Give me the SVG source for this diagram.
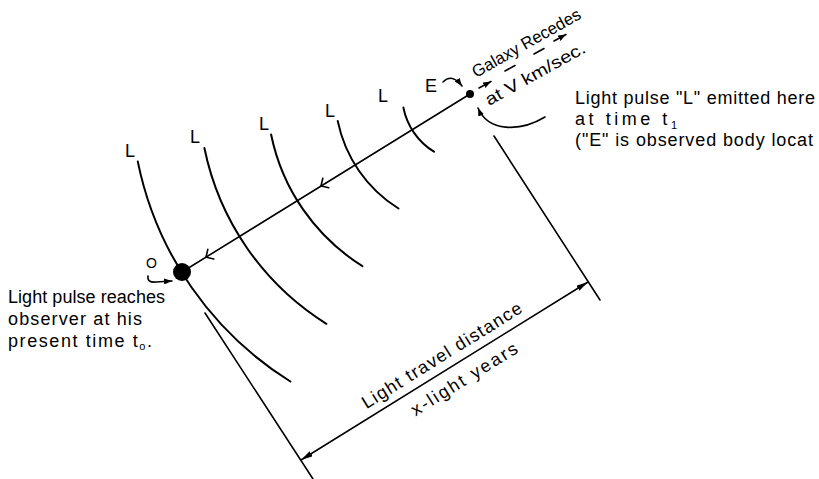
<svg xmlns="http://www.w3.org/2000/svg" width="819" height="479" viewBox="0 0 819 479">
<style>
  .ln { fill: none; stroke: #000; stroke-width: 1.6; stroke-linecap: round; }
  .arc { fill: none; stroke: #000; stroke-width: 2; stroke-linecap: round; }
  .tx { font-family: "Liberation Sans", Arial, sans-serif; font-size: 18px; fill: #000; }
  .sm { font-size: 17px; }
  .sub { font-size: 11px; }
</style>
<defs>
  <marker id="ah" viewBox="0 0 12 6" refX="12" refY="3" markerWidth="12" markerHeight="6" markerUnits="userSpaceOnUse" orient="auto-start-reverse">
    <path d="M0,0 L12,3 L0,6 z" fill="#000"/>
  </marker>
  <marker id="ahs" viewBox="0 0 8 6" refX="8" refY="3" markerWidth="8" markerHeight="6" markerUnits="userSpaceOnUse" orient="auto">
    <path d="M0,0 L8,3 L0,6 z" fill="#000"/>
  </marker>
</defs>
<rect width="819" height="479" fill="#fff"/>

<g id="wavefronts">
  <g id="wave-1">
    <path class="arc" d="M137.8,161.6 A339,339 0 0 0 290.4,381.5"/>
    <text class="tx" x="125" y="157">L</text>
  </g>
  <g id="wave-2">
    <path class="arc" d="M204.4,148 A271,271 0 0 0 326.4,323.8"/>
    <text class="tx" x="190" y="143">L</text>
  </g>
  <g id="wave-3">
    <path class="arc" d="M271.1,134.5 A203,203 0 0 0 362.4,266.1"/>
    <text class="tx" x="259" y="130">L</text>
  </g>
  <g id="wave-4">
    <path class="arc" d="M337.7,120.9 A135,135 0 0 0 398.5,208.5"/>
    <text class="tx" x="325" y="117">L</text>
  </g>
  <g id="wave-5">
    <path class="arc" d="M403.4,107.6 A67,67 0 0 0 434,151.7"/>
    <text class="tx" x="378" y="102">L</text>
  </g>
</g>

<g id="connectors">
  <!-- light path E to O -->
  <line class="ln" x1="470" y1="94" x2="182" y2="272"/>
  <path class="ln" d="M207.8,249.4 L206,257.2 L213.8,259"/>
  <path class="ln" d="M322.8,178.2 L321,186 L328.8,187.8"/>
  <!-- extension lines -->
  <line class="ln" x1="494" y1="136" x2="600" y2="300"/>
  <line class="ln" x1="205" y1="313" x2="313" y2="479"/>
  <!-- dimension line -->
  <line class="ln" x1="301" y1="460" x2="588" y2="282" marker-start="url(#ah)" marker-end="url(#ah)"/>
  <!-- label arrows -->
  <path class="ln" d="M443,82 Q452,73 462,86" marker-end="url(#ahs)"/>
  <path class="ln" d="M148,276 Q147,283 156,282 L172,281" marker-end="url(#ahs)"/>
  <path class="ln" d="M545,117 C520,132 488,132 478,108" marker-end="url(#ahs)"/>
  <!-- recession direction -->
  <line class="ln" x1="479" y1="88" x2="491" y2="81.5" marker-end="url(#ahs)"/>
  <line class="ln" x1="505" y1="71" x2="515" y2="65.5"/>
  <line class="ln" x1="534" y1="54" x2="544" y2="48.5"/>
  <line class="ln" x1="554" y1="41" x2="566" y2="34.5" marker-end="url(#ahs)"/>
</g>

<g id="node-O">
  <circle cx="182" cy="272" r="9" fill="#000"/>
  <text class="tx" x="146" y="268" style="font-size:14px">O</text>
</g>

<g id="node-E">
  <circle cx="470" cy="94" r="4" fill="#000"/>
  <text class="tx" x="425" y="92">E</text>
</g>

<g id="label-galaxy">
  <text class="tx sm" transform="translate(476,78) rotate(-29.5)" textLength="122" lengthAdjust="spacingAndGlyphs">Galaxy Recedes</text>
  <text class="tx sm" transform="translate(489,106) rotate(-29)" textLength="112" lengthAdjust="spacingAndGlyphs">at V km/sec.</text>
</g>

<g id="label-emitted">
  <text class="tx" x="575" y="104" textLength="240" lengthAdjust="spacing">Light pulse "L" emitted here</text>
  <text class="tx" x="575" y="125" textLength="102" lengthAdjust="spacing">at time t<tspan class="sub" dy="4">1</tspan></text>
  <text class="tx" x="575" y="146" textLength="238" lengthAdjust="spacing">("E" is observed body locat</text>
</g>

<g id="label-observer">
  <text class="tx" x="8" y="303" textLength="157" lengthAdjust="spacing">Light pulse reaches</text>
  <text class="tx" x="8" y="325" textLength="134" lengthAdjust="spacing">observer at his</text>
  <text class="tx" x="8" y="347" textLength="144" lengthAdjust="spacing">present time t<tspan class="sub" dy="3">o</tspan><tspan dy="-3">.</tspan></text>
</g>

<g id="label-distance" transform="translate(445,371) rotate(-31.9)">
  <text class="tx" x="-87" y="-9" textLength="185" lengthAdjust="spacing">Light travel distance</text>
  <text class="tx" x="-49" y="23" textLength="122" lengthAdjust="spacing">x-light years</text>
</g>
</svg>
